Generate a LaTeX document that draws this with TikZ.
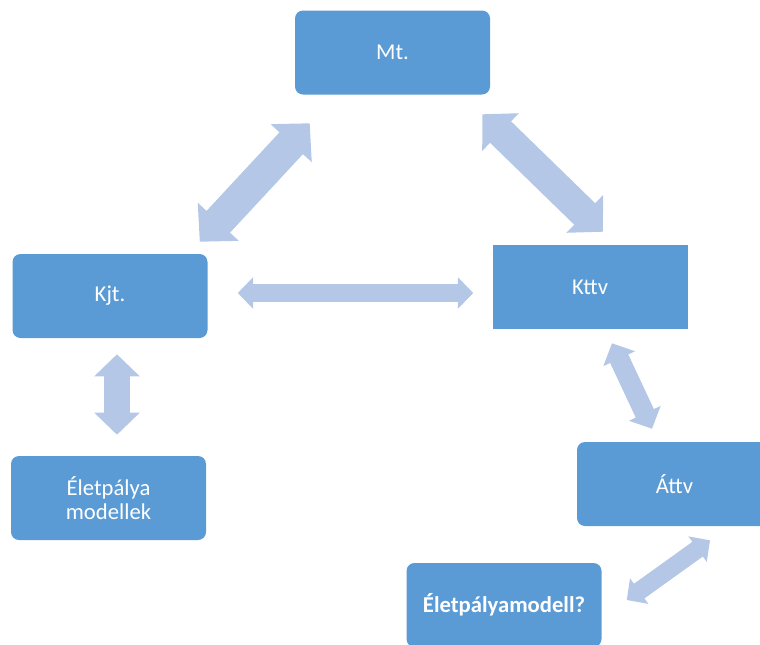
\documentclass[tikz,border=0pt]{standalone}
\usepackage{fontspec}
\setmainfont{Carlito}
\usetikzlibrary{arrows.meta,calc}

\definecolor{boxblue}{RGB}{91,155,213}
\definecolor{linkblue}{RGB}{180,199,231}

\tikzset{
  box/.style={fill=boxblue, text=white, rounded corners=6pt, minimum width=146.25pt, minimum height=63pt, inner sep=0pt, align=center, font=\fontsize{17}{17.5}\selectfont},
  link/.style={draw=linkblue, line width=#1, {Triangle[width=0pt 1.7,length=0pt 0.85]}-{Triangle[width=0pt 1.7,length=0pt 0.85]}}
}

\begin{document}
\begin{tikzpicture}[x=0.75pt,y=0.75pt,yscale=-1,xscale=1]
\useasboundingbox (0,0) rectangle (760,644);

% Boxes
\node [box] (mt) at (392.5,52.5) {Mt.};
\node [box] (kjt) at (110,296) {Kjt.};
\node [box, sharp corners] (kttv) at (590,287) {Kttv};
\node [box] (modellek) at (108.5,498) {Életpálya\\modellek};
\node [box] (attv) at (674.5,484) {Áttv};
\node [box, font=\fontsize{17}{17.5}\selectfont\bfseries] (modell) at (504,605) {Életpályamodell?};

% Double arrows
\draw [link=24pt] ($(kjt.north east)+(-8,-12)$) -- ($(mt.south west)+(15,28.5)$);
\draw [link=22.5pt] ($(mt.south east)+(-8,19.5)$) -- ($(kttv.north)+(13,-13)$);
\draw [link=13.5pt] ($(kjt.east)+(30,-3)$) -- ($(kttv.west)+(-19,6)$);
\draw [link=19.5pt] ($(kjt.south)+(7,16)$) -- ($(modellek.north)+(8.5,-21)$);
\draw [link=15pt] ($(kttv.south)+(22,14)$) -- ($(attv.north)+(-22.5,-13)$);
\draw [link=13.5pt] ($(attv.south)+(35.5,14)$) -- ($(modell.east)+(25,-5)$);

\end{tikzpicture}
\end{document}
